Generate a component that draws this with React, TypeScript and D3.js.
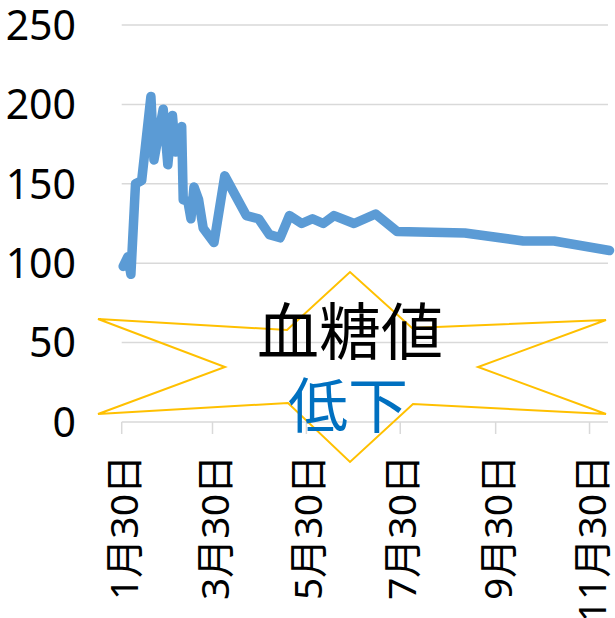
import React from "react";
import * as d3 from "d3";

const dates = [
  "2019-01-30", "2019-02-02", "2019-02-04", "2019-02-07", "2019-02-11", "2019-02-17",
  "2019-02-19", "2019-02-25", "2019-02-28", "2019-03-03", "2019-03-05", "2019-03-09",
  "2019-03-10", "2019-03-13", "2019-03-15", "2019-03-17", "2019-03-20", "2019-03-23",
  "2019-03-30", "2019-04-06", "2019-04-20", "2019-04-28", "2019-05-05", "2019-05-12",
  "2019-05-18", "2019-05-26", "2019-06-02", "2019-06-09", "2019-06-16", "2019-06-29",
  "2019-07-13", "2019-07-27", "2019-09-09", "2019-10-17", "2019-11-06", "2019-12-12",
];
const values = [
  98, 104, 93, 150, 152, 205,
  165, 197, 162, 193, 170, 186,
  140, 139, 128, 148, 140, 122,
  113, 155, 130, 128, 118, 116,
  130, 125, 128, 125, 130, 125,
  131, 120, 119, 114, 114, 108,
];
const yTicks = [0, 50, 100, 150, 200, 250];
const xTickDates = ["2019-01-30", "2019-03-30", "2019-05-30", "2019-07-30", "2019-09-30", "2019-11-30"];
const title1 = "血糖値";
const title2 = "低下";

const parse = d3.timeParse("%Y-%m-%d");

export default function App() {
  const W = 615, H = 618;
  const left = 121.7, right = 608, top = 25, bottom = 422;
  const x = d3.scaleTime()
    .domain([parse(dates[0])!, parse(dates[dates.length - 1])!])
    .range([left, right]);
  const y = d3.scaleLinear().domain([0, 250]).range([bottom, top]);
  const data = dates.map((d, i) => ({ d: parse(d)!, v: values[i] }));
  const line = d3.line<{ d: Date; v: number }>().x(p => x(p.d) + 1.5).y(p => y(p.v));

  // explosion shape around center
  const cx = 352, cy = 367;
  const star: [number, number][] = [
    [-254, -48], [-65, -37], [-2, -95], [60, -39], [254, -47], [126, 0],
    [254, 47], [61, 37], [-2, 95], [-64, 36], [-254, 47], [-127, 0],
  ];
  const starPath = star.map(([a, b]) => `${cx + a},${cy + b}`).join(" ");

  const font = "'Noto Sans', 'Noto Sans CJK JP', sans-serif";

  return (
    <svg width={W} height={H} style={{ position: "absolute", left: 0, top: 0, background: "#fff" }}>
      {yTicks.map(t => (
        <g key={t}>
          {t > 0 && <line x1={left} x2={right} y1={y(t)} y2={y(t)} stroke="#d9d9d9" strokeWidth={1.5} />}
          <text x={76} y={y(t)} dy="0.36em" textAnchor="end" fontSize={41} fontFamily={font} fill="#000">{t}</text>
        </g>
      ))}
      <line x1={left} x2={right} y1={bottom} y2={bottom} stroke="#d9d9d9" strokeWidth={1.5} />
      {xTickDates.map(s => {
        const dt = parse(s)!;
        const tx = x(dt);
        return (
          <g key={s}>
            <line x1={tx} x2={tx} y1={bottom} y2={bottom + 12} stroke="#d9d9d9" strokeWidth={1.5} />
            <text transform={`translate(${tx + 2},${455}) rotate(-90)`} textAnchor="end" dy="0.36em"
              fontSize={39} fontFamily={font} fill="#000">
              {`${dt.getMonth() + 1}月${dt.getDate()}日`}
            </text>
          </g>
        );
      })}
      <path d={line(data)!} fill="none" stroke="#5B9BD5" strokeWidth={9.5} strokeLinejoin="round" strokeLinecap="round" />
      <polygon points={starPath} fill="none" stroke="#FFC000" strokeWidth={2} strokeLinejoin="miter" />
      <text x={350} y={333} dy="0.36em" textAnchor="middle" fontSize={62} fontFamily="'Noto Sans CJK JP', sans-serif" fill="#000">{title1}</text>
      <text x={348} y={406} dy="0.36em" textAnchor="middle" fontSize={60} fontFamily="'Noto Sans CJK JP', sans-serif" fill="#0070C0">{title2}</text>
    </svg>
  );
}
